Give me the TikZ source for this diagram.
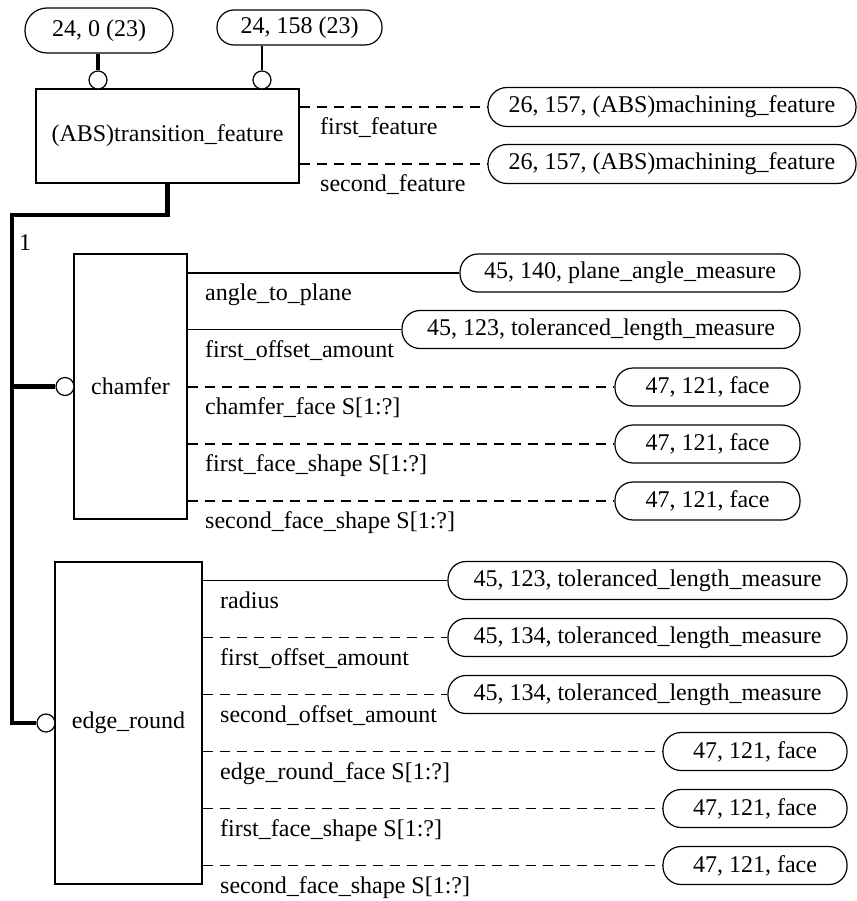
\documentclass[tikz,border=0pt]{standalone}
\usepackage{fontspec}
\setmainfont{Liberation Serif}
\usetikzlibrary{calc, positioning}

\tikzset{
  entity/.style={draw, line width=1.2pt, inner sep=0pt, align=center},
  refbox/.style={draw, line width=1.2pt, rounded corners=18pt, minimum height=37pt, inner sep=0pt},
  ring/.style={draw, circle, fill=white, line width=1.2pt, minimum size=18pt, inner sep=0pt},
  attrlabel/.style={anchor=base west, inner sep=0pt},
  optrel/.style={line width=1.2pt, dash pattern=on 10pt off 7pt},
  reqrel/.style={line width=1.2pt},
  subrel/.style={line width=4.5pt}
}

\begin{document}
\begin{tikzpicture}[x=1pt, y=-1pt, font=\fontsize{24}{28}\selectfont]
  \useasboundingbox (0,0) rectangle (856,901);

  % supertype and its references
  \node[entity, minimum width=263pt, minimum height=94pt] (tf) at (167.5,136) {(ABS)transition\_feature};
  \node[refbox, minimum width=148pt, minimum height=45pt, rounded corners=22pt] (ref1) at (99,30.5) {24, 0 (23)};
  \node[refbox, minimum width=165pt, minimum height=35pt, rounded corners=17pt] (ref2) at (299.5,27.5) {24, 158 (23)};
  \node[ring] (c1) at (98,80) {};
  \node[ring] (c2) at (262,80) {};
  \draw[subrel] (c1.north |- ref1.south) -- (c1.north);
  \draw[reqrel] (c2.north |- ref2.south) -- (c2.north);

  \node[refbox, minimum width=368pt, minimum height=39pt, rounded corners=19pt] (mf1) at (672,107) {26, 157, (ABS)machining\_feature};
  \node[refbox, minimum width=368pt, minimum height=39pt, rounded corners=19pt] (mf2) at (672,164) {26, 157, (ABS)machining\_feature};
  \draw[optrel] (tf.east |- mf1.west) -- (mf1.west);
  \draw[optrel] (tf.east |- mf2.west) -- (mf2.west);
  \node[attrlabel] (l1) at (320,135) {first\_feature};
  \node[attrlabel] (l2) at (320,192) {second\_feature};

  % subtypes
  \node[entity, minimum width=113pt, minimum height=265pt] (chamfer) at (130.5,386.5) {chamfer};
  \node[entity, minimum width=147pt, minimum height=322pt] (eround) at (128.5,723) {edge\_round};
  \node[ring] (c3) at (65,386.5) {};
  \node[ring] (c4) at (46,723) {};
  \coordinate (bend) at (12,215);
  \draw[subrel] (tf.south) |- (bend) -- (bend |- c4.west) -- (c4.west);
  \draw[subrel] (bend |- c3.west) -- (c3.west);
  \node[attrlabel] (one) at (19,250) {1};

  % chamfer attributes
  \node[refbox, minimum width=340pt, minimum height=38pt] (pam) at (630,273) {45, 140, plane\_angle\_measure};
  \node[refbox, minimum width=398pt, minimum height=38pt] (tlm1) at (601,329.5) {45, 123, toleranced\_length\_measure};
  \node[refbox, minimum width=185pt, minimum height=38pt] (fc1) at (707.5,387) {47, 121, face};
  \node[refbox, minimum width=185pt, minimum height=38pt] (fc2) at (707.5,444) {47, 121, face};
  \node[refbox, minimum width=185pt, minimum height=38pt] (fc3) at (707.5,501) {47, 121, face};
  \draw[reqrel] (chamfer.east |- pam.west) -- (pam.west);
  \draw[reqrel] (chamfer.east |- tlm1.west) -- (tlm1.west);
  \draw[optrel] (chamfer.east |- fc1.west) -- (fc1.west);
  \draw[optrel] (chamfer.east |- fc2.west) -- (fc2.west);
  \draw[optrel] (chamfer.east |- fc3.west) -- (fc3.west);
  \node[attrlabel] (a1) at (205,300) {angle\_to\_plane};
  \node[attrlabel] (a2) at (205,357) {first\_offset\_amount};
  \node[attrlabel] (a3) at (205,414) {chamfer\_face S[1:?]};
  \node[attrlabel] (a4) at (205,471) {first\_face\_shape S[1:?]};
  \node[attrlabel] (a5) at (205,528) {second\_face\_shape S[1:?]};

  % edge_round attributes
  \node[refbox, minimum width=399pt, minimum height=38pt] (tlm2) at (647.5,580.5) {45, 123, toleranced\_length\_measure};
  \node[refbox, minimum width=399pt, minimum height=38pt] (tlm3) at (647.5,637.5) {45, 134, toleranced\_length\_measure};
  \node[refbox, minimum width=399pt, minimum height=38pt] (tlm4) at (647.5,694.5) {45, 134, toleranced\_length\_measure};
  \node[refbox, minimum width=184pt, minimum height=38pt] (fc4) at (755,751.5) {47, 121, face};
  \node[refbox, minimum width=184pt, minimum height=38pt] (fc5) at (755,808.5) {47, 121, face};
  \node[refbox, minimum width=184pt, minimum height=38pt] (fc6) at (755,865.5) {47, 121, face};
  \draw[reqrel] (eround.east |- tlm2.west) -- (tlm2.west);
  \draw[optrel] (eround.east |- tlm3.west) -- (tlm3.west);
  \draw[optrel] (eround.east |- tlm4.west) -- (tlm4.west);
  \draw[optrel] (eround.east |- fc4.west) -- (fc4.west);
  \draw[optrel] (eround.east |- fc5.west) -- (fc5.west);
  \draw[optrel] (eround.east |- fc6.west) -- (fc6.west);
  \node[attrlabel] (b1) at (220,608) {radius};
  \node[attrlabel] (b2) at (220,665) {first\_offset\_amount};
  \node[attrlabel] (b3) at (220,722) {second\_offset\_amount};
  \node[attrlabel] (b4) at (220,779) {edge\_round\_face S[1:?]};
  \node[attrlabel] (b5) at (220,836) {first\_face\_shape S[1:?]};
  \node[attrlabel] (b6) at (220,893) {second\_face\_shape S[1:?]};
\end{tikzpicture}
\end{document}
